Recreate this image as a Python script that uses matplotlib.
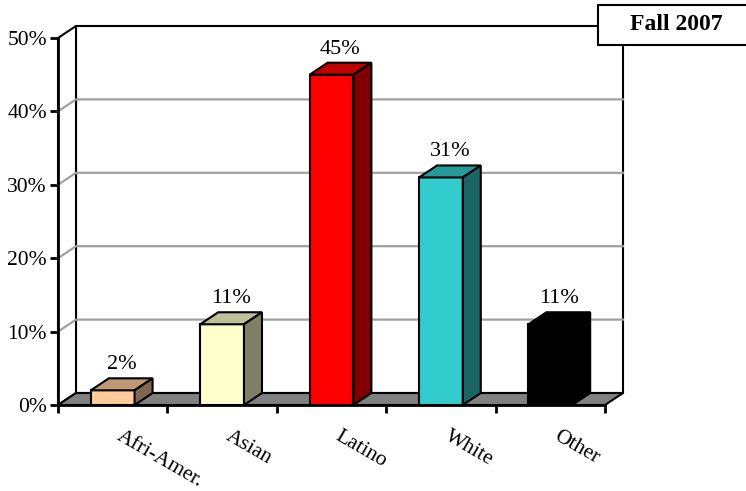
import matplotlib.pyplot as plt
import matplotlib.colors as mcolors
from matplotlib.patches import Polygon, Rectangle

plt.rcParams['font.family'] = ['Liberation Serif', 'DejaVu Serif']

groups = ["Afri-Amer.", "Asian", "Latino", "White", "Other"]
shares = [2, 11, 45, 31, 11]
colors = ["#FFCC99", "#FFFFCC", "#FF0000", "#33CCCC", "#000000"]
yticks = [0, 10, 20, 30, 40, 50]
title = "Fall 2007"

W, H = 746, 491
fig = plt.figure(figsize=(W / 100, H / 100), dpi=100)
ax = fig.add_axes([58 / W, 86 / H, 547 / W, 367 / H])
ax.patch.set_visible(False)

n = len(groups)
ymax = yticks[-1]
ax.set_xlim(0, n)
ax.set_ylim(0, ymax)

# depth of the fake 3d box, converted from pixels to data units
dx = 18 * n / 547
dy = 12 * ymax / 367
bw = 0.4
edge = 1.5


def shade(c, f):
    r, g, b = mcolors.to_rgb(c)
    return (r * f, g * f, b * f)


def poly(pts, fc, z=1, lw=edge):
    ax.add_patch(Polygon(pts, closed=True, fc=fc, ec="black", lw=lw,
                         zorder=z, clip_on=False, joinstyle="miter"))


# walls
poly([(dx, dy), (n + dx, dy), (n + dx, ymax + dy), (dx, ymax + dy)], "white", z=1)
poly([(0, 0), (dx, dy), (dx, ymax + dy), (0, ymax)], "white", z=1)

# gridlines on side and back wall
for t in yticks[1:-1]:
    ax.plot([0, dx, n + dx], [t, t + dy, t + dy], color="#A0A0A0", lw=1.6,
            clip_on=False, zorder=2)

# floor
poly([(0, 0), (n, 0), (n + dx, dy), (dx, dy)], "#808080", z=3)

# bars
for i, (v, c) in enumerate(zip(shares, colors)):
    x0 = i + 0.5 - bw / 2
    x1 = x0 + bw
    z = 4 + i
    poly([(x0, 0), (x1, 0), (x1, v), (x0, v)], c, z=z)
    poly([(x0, v), (x1, v), (x1 + dx, v + dy), (x0 + dx, v + dy)], shade(c, 0.75), z=z)
    poly([(x1, 0), (x1 + dx, dy), (x1 + dx, v + dy), (x1, v)], shade(c, 0.5), z=z)
    ax.annotate(f"{v}%", (i + 0.5 + dx / 2, v + dy), xytext=(0, 3),
                textcoords="offset points", ha="center", va="bottom",
                fontsize=16, zorder=20, annotation_clip=False)
    ax.annotate(groups[i], (i + 0.5, 0), xytext=(7, -15.5),
                textcoords="offset points", ha="left", va="top",
                rotation=-30, rotation_mode="anchor", fontsize=15.5,
                annotation_clip=False)

for s in ["top", "right"]:
    ax.spines[s].set_visible(False)
for s in ["left", "bottom"]:
    ax.spines[s].set_linewidth(2)
    ax.spines[s].set_zorder(30)

ax.set_yticks(yticks)
ax.set_yticklabels([f"{t}%" for t in yticks], fontsize=15.5)
ax.set_xticks(range(n + 1))
ax.set_xticklabels([])
ax.tick_params(direction="out", length=6, width=2, pad=2)

# title box
fig.add_artist(Rectangle((598 / W, 1 - 45 / H), 152 / W, 40 / H,
                         transform=fig.transFigure, fc="white", ec="black",
                         lw=1.5, zorder=5))
fig.text(676 / W, 1 - 25 / H, title, ha="center", va="center",
         fontsize=17, fontweight="bold", zorder=6)

fig.savefig("out.png", dpi=100)
